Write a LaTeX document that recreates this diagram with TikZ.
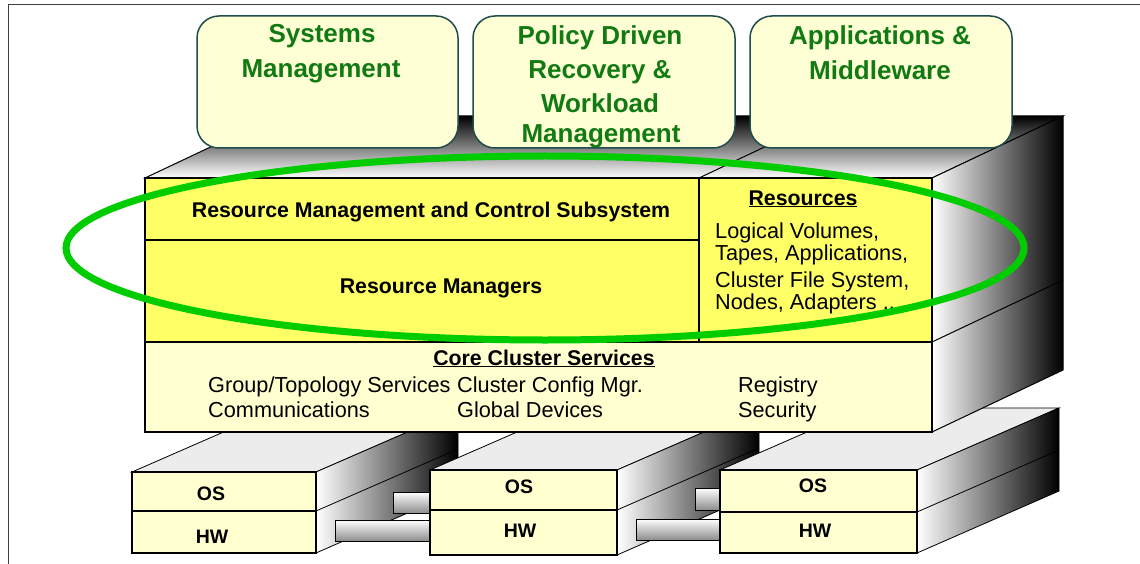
\documentclass[tikz,border=0pt]{standalone}
\usepackage{fontspec}
\setmainfont{Liberation Sans}
\newcommand\fsz[1]{\fontsize{#1}{#1}\selectfont}
\definecolor{lightyel}{RGB}{255,255,208}
\definecolor{boxyel}{RGB}{255,255,214}
\definecolor{brightyel}{RGB}{255,255,102}
\definecolor{boxedge}{RGB}{31,77,77}
\definecolor{titlegreen}{RGB}{18,122,18}
\definecolor{ringgreen}{RGB}{0,204,0}
\definecolor{topgray}{RGB}{236,236,236}
\tikzset{
  sideface/.style={left color=white, right color=black, draw=black, line width=0.8pt},
  topface/.style={fill=topgray, draw=black, line width=0.8pt},
  frontbox/.style={fill=lightyel, draw=black, line width=1.3pt},
  blockline/.style={draw=black, line width=1.3pt},
  bar/.style={top color=white, bottom color=black!45, draw=black, line width=0.7pt},
  titlebox/.style={fill=boxyel, draw=boxedge, line width=1.5pt, rounded corners=22pt},
  titletext/.style={font=\fsz{26}\bfseries, text=titlegreen, anchor=base, inner sep=0pt},
  boldlbl/.style={font=\fsz{21.3}\bfseries, anchor=base, inner sep=0pt},
  plainlbl/.style={font=\fsz{21.7}, anchor=base west, inner sep=0pt},
  oslbl/.style={font=\fsz{19.5}\bfseries, anchor=base, inner sep=0pt},
  ring/.style={draw=ringgreen, line width=7pt}
}
\begin{document}
\begin{tikzpicture}[x=1pt,y=-1pt]
\useasboundingbox (0,0) rectangle (1140,564);
% frame
\draw[black!75, line width=1pt] (8,564) -- (8,5) -- (1140,5);

% ---------- node 1 ----------
\path[topface] (132,472) -- (316,472) -- (458,410) -- (274,410) -- cycle;
\path[sideface] (316,472) -- (458,410) -- (458,491) -- (316,553) -- cycle;
\draw[line width=0.8pt] (316,511) -- (458,449);
\path[frontbox] (132,472) rectangle (316,511);
\path[frontbox] (132,511) rectangle (316,553);
\node[oslbl] (os1) at (211,500) {OS};
\node[oslbl] (hw1) at (212,543) {HW};
% bars 1-2
\path[bar] (393,492) rectangle (440,513);
\path[bar] (335,520) rectangle (440,541);

% ---------- node 2 ----------
\path[topface] (430,470) -- (617,470) -- (759,408) -- (572,408) -- cycle;
\path[sideface] (617,470) -- (759,408) -- (759,493) -- (617,555) -- cycle;
\draw[line width=0.8pt] (617,510) -- (759,448);
\path[frontbox] (430,470) rectangle (617,510);
\path[frontbox] (430,510) rectangle (617,555);
\node[oslbl] (os2) at (519,493) {OS};
\node[oslbl] (hw2) at (520,537) {HW};
% bars 2-3
\path[bar] (695,488) rectangle (730,510);
\path[bar] (636,519) rectangle (730,540);

% ---------- node 3 ----------
\path[topface] (720,470) -- (917,470) -- (1059,408) -- (862,408) -- cycle;
\path[sideface] (917,470) -- (1059,408) -- (1059,491) -- (917,553) -- cycle;
\draw[line width=0.8pt] (917,512) -- (1059,450);
\path[frontbox] (720,470) rectangle (917,512);
\path[frontbox] (720,512) rectangle (917,553);
\node[oslbl] (os3) at (813,492) {OS};
\node[oslbl] (hw3) at (815,537) {HW};

% ---------- main block ----------
\path[top color=black, bottom color=white, draw=black, line width=1pt]
  (145,178) -- (932,178) -- (1063,116) -- (276,116) -- cycle;
\draw[line width=1pt] (699,178) -- (830,116);
\path[sideface, line width=1pt] (932,178) -- (1063,116) -- (1063,370) -- (932,432) -- cycle;
\draw[line width=1pt] (932,342) -- (1063,280);
\path[fill=brightyel, blockline] (145,178) rectangle (932,342);
\path[fill=lightyel, blockline] (145,342) rectangle (932,432);
\draw[blockline] (145,240) -- (699,240);
\draw[blockline] (699,178) -- (699,342);

\node[boldlbl] (rmc) at (431,218) {Resource Management and Control Subsystem};
\node[boldlbl] (rm) at (441,293) {Resource Managers};
\node[boldlbl] (res) at (803,205) {\underline{Resources}};
\node[plainlbl] (r1) at (715,238) {Logical Volumes,};
\node[plainlbl] (r2) at (715,260) {Tapes, Applications,};
\node[plainlbl] (r3) at (715,287) {Cluster File System,};
\node[plainlbl] (r4) at (715,309) {Nodes, Adapters ..};

\node[boldlbl] (ccs) at (544,365) {\underline{Core Cluster Services}};
\node[plainlbl] (c1) at (208,392) {Group/Topology Services};
\node[plainlbl] (c2) at (208,417) {Communications};
\node[plainlbl] (c3) at (457,392) {Cluster Config Mgr.};
\node[plainlbl] (c4) at (457,417) {Global Devices};
\node[plainlbl] (c5) at (738,392) {Registry};
\node[plainlbl] (c6) at (738,417) {Security};

% ---------- title boxes ----------
\path[titlebox] (197,16) rectangle (458,148);
\path[titlebox] (473,16) rectangle (735,148);
\path[titlebox] (750,16) rectangle (1012,148);
\node[titletext] (t1a) at (322,43) {Systems};
\node[titletext] (t1b) at (321,78) {Management};
\node[titletext] (t2a) at (600,45) {Policy Driven};
\node[titletext] (t2b) at (600,79) {Recovery \&};
\node[titletext] (t2c) at (600,113) {Workload};
\node[titletext] (t2d) at (601,143) {Management};
\node[titletext] (t3a) at (880,45) {Applications \&};
\node[titletext] (t3b) at (880,80) {Middleware};

% ---------- green ring ----------
\draw[ring] (545,248) ellipse [x radius=479, y radius=92];
\end{tikzpicture}
\end{document}
